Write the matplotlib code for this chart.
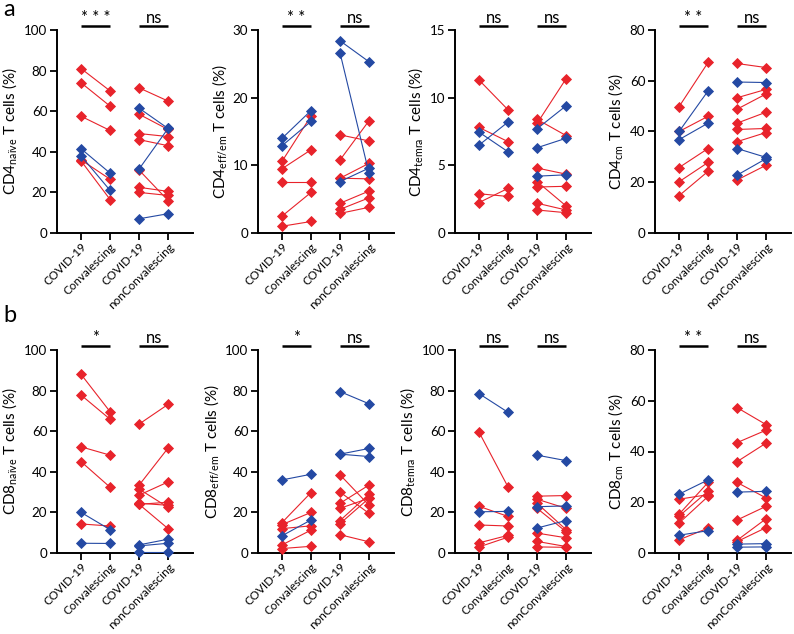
import matplotlib
matplotlib.use('Agg')
import matplotlib.pyplot as plt
import matplotlib.transforms as mtransforms

plt.rcParams['font.family'] = ['Lato', 'DejaVu Sans']
plt.rcParams['mathtext.fontset'] = 'custom'
plt.rcParams['mathtext.rm'] = 'Lato'

RED = '#e8232b'
BLUE = '#2449a3'

group_labels = ['COVID-19', 'Convalescing', 'COVID-19', 'nonConvalescing']

# (COVID-19 value, follow-up value) pairs
# --- row a: CD4 ---
cd4_naive_conv_red = [(81, 70), (74, 62.5), (57.5, 50.5), (36, 26.5), (35.5, 16.5)]
cd4_naive_conv_blue = [(41.5, 29.5), (38, 21)]
cd4_naive_non_red = [(71.5, 65), (58.5, 51), (49, 47.5), (46, 43), (31, 16), (22.5, 20.5), (20, 18.5)]
cd4_naive_non_blue = [(61.5, 51.5), (31.5, 51.5), (7, 9.5)]

cd4_effem_conv_red = [(10.6, 17.3), (9.5, 12.3), (7.6, 7.6), (2.5, 6.0), (1.0, 1.7)]
cd4_effem_conv_blue = [(14, 18.1), (12.9, 16.5)]
cd4_effem_non_red = [(14.5, 13.6), (10.8, 16.6), (8.1, 10.3), (8.1, 8.0), (4.4, 6.2), (3.5, 5.2), (2.9, 3.8)]
cd4_effem_non_blue = [(28.4, 25.3), (26.6, 8.8), (7.6, 9.6)]

cd4_temra_conv_red = [(11.3, 9.1), (7.8, 6.75), (2.9, 2.7), (2.25, 3.3)]
cd4_temra_conv_blue = [(7.45, 6.0), (6.5, 8.2)]
cd4_temra_non_red = [(8.1, 11.4), (8.4, 7.2), (4.8, 4.35), (3.8, 2.0), (3.4, 3.45), (2.2, 1.7), (1.7, 1.5)]
cd4_temra_non_blue = [(7.7, 9.4), (6.3, 7.0), (4.2, 4.3)]

cd4_cm_conv_red = [(49.8, 67.2), (40, 46), (25.8, 33.3), (20.2, 27.8), (14.7, 24.3)]
cd4_cm_conv_blue = [(40, 56), (36.8, 43.3)]
cd4_cm_non_red = [(66.8, 65.2), (53.3, 56.6), (48.8, 54.8), (43.3, 47.6), (40.8, 41.2), (36, 39.6), (20.9, 26.7)]
cd4_cm_non_blue = [(59.5, 59.3), (33.3, 29.8), (22.8, 29.3)]

# --- row b: CD8 ---
cd8_naive_conv_red = [(88, 69.6), (77.8, 65.9), (52.3, 48.2), (45, 32.4), (14.3, 13.3)]
cd8_naive_conv_blue = [(20, 11.5), (4.8, 4.7)]
cd8_naive_non_red = [(63.5, 73.2), (33.4, 51.7), (31.5, 22.5), (28.5, 35), (24.5, 23.5), (24, 12), (24, 25)]
cd8_naive_non_blue = [(4, 6.8), (3.5, 4.8), (0.5, 0.5)]

cd8_effem_conv_red = [(15, 29.8), (14, 20), (12, 13.4), (4, 11.3), (2.2, 3.3)]
cd8_effem_conv_blue = [(36, 38.8), (8.5, 16.3)]
cd8_effem_non_red = [(38.5, 23.5), (30, 19.5), (24.5, 33.5), (22, 27), (16, 29), (14.5, 27), (9, 5.5)]
cd8_effem_non_blue = [(79.5, 73.5), (48.7, 51.5), (48.7, 47.5)]

cd8_temra_conv_red = [(59.5, 32.5), (23, 18), (13.8, 13.3), (5, 8.7), (3, 7.8)]
cd8_temra_conv_blue = [(78.5, 69.3), (20.3, 20.5)]
cd8_temra_non_red = [(28, 28.3), (26.5, 22), (24.5, 11.5), (22, 10.5), (9.8, 7.5), (5.7, 3.2), (3, 2.8)]
cd8_temra_non_blue = [(48.2, 45.5), (22.8, 23.2), (12.3, 16)]

cd8_cm_conv_red = [(21.2, 23.0), (15.3, 27.8), (14.5, 24.4), (11.8, 22.3), (5.2, 9.8)]
cd8_cm_conv_blue = [(23.2, 28.8), (7, 8.8)]
cd8_cm_non_red = [(57.3, 50.6), (43.5, 48.4), (36, 43.3), (27.8, 21.7), (13, 18.4), (5, 13.5), (4.5, 10)]
cd8_cm_non_blue = [(24, 24.3), (3.5, 3.7), (2.3, 2.4)]

panels = [
    ('CD4', 'naïve', 100, 20, ('* * *', 'ns'),
     cd4_naive_conv_red, cd4_naive_conv_blue, cd4_naive_non_red, cd4_naive_non_blue),
    ('CD4', 'eff/em', 30, 10, ('* *', 'ns'),
     cd4_effem_conv_red, cd4_effem_conv_blue, cd4_effem_non_red, cd4_effem_non_blue),
    ('CD4', 'temra', 15, 5, ('ns', 'ns'),
     cd4_temra_conv_red, cd4_temra_conv_blue, cd4_temra_non_red, cd4_temra_non_blue),
    ('CD4', 'cm', 80, 20, ('* *', 'ns'),
     cd4_cm_conv_red, cd4_cm_conv_blue, cd4_cm_non_red, cd4_cm_non_blue),
    ('CD8', 'naïve', 100, 20, ('*', 'ns'),
     cd8_naive_conv_red, cd8_naive_conv_blue, cd8_naive_non_red, cd8_naive_non_blue),
    ('CD8', 'eff/em', 100, 20, ('*', 'ns'),
     cd8_effem_conv_red, cd8_effem_conv_blue, cd8_effem_non_red, cd8_effem_non_blue),
    ('CD8', 'temra', 100, 20, ('ns', 'ns'),
     cd8_temra_conv_red, cd8_temra_conv_blue, cd8_temra_non_red, cd8_temra_non_blue),
    ('CD8', 'cm', 80, 20, ('* *', 'ns'),
     cd8_cm_conv_red, cd8_cm_conv_blue, cd8_cm_non_red, cd8_cm_non_blue),
]

W, H = 794, 634
fig = plt.figure(figsize=(W / 100, H / 100), dpi=100)

lefts = [57, 258, 455, 655]
row_tops = [30, 350]
ax_w, ax_h = 136, 203


def draw_pairs(ax, pairs, x0, color):
    for before, after in pairs:
        ax.plot([x0, x0 + 1], [before, after], color=color, lw=0.8,
                marker='D', ms=4.6, mec=color, mfc=color, mew=0.6, zorder=3, clip_on=False)


for i, (cell, sub, ymax, step, stars, c_red, c_blue, n_red, n_blue) in enumerate(panels):
    row, col = divmod(i, 4)
    ax = fig.add_axes([lefts[col] / W, 1 - (row_tops[row] + ax_h) / H, ax_w / W, ax_h / H])

    draw_pairs(ax, c_red, 0, RED)
    draw_pairs(ax, c_blue, 0, BLUE)
    draw_pairs(ax, n_red, 2, RED)
    draw_pairs(ax, n_blue, 2, BLUE)

    ax.set_xlim(-0.83, 3.86)
    ax.set_ylim(0, ymax)
    ax.set_yticks(range(0, ymax + 1, step))
    ax.set_xticks(range(4))
    ax.set_xticklabels(group_labels, rotation=45, ha='right', rotation_mode='anchor', fontsize=8.4)
    ax.tick_params(axis='y', labelsize=9.6, length=5, width=1.3, direction='out', pad=2)
    ax.tick_params(axis='x', length=5, width=1.3, direction='out', pad=1)
    for s in ['top', 'right']:
        ax.spines[s].set_visible(False)
    for s in ['left', 'bottom']:
        ax.spines[s].set_linewidth(1.4)

    ax.set_ylabel(cell + '$_{\\mathregular{' + sub + '}}$ T cells (%)', fontsize=11, labelpad=3)

    trans = mtransforms.blended_transform_factory(ax.transData, ax.transAxes)
    for k, label in enumerate(stars):
        x0 = 2 * k
        ax.plot([x0, x0 + 1], [1.02, 1.02], color='black', lw=1.8, transform=trans,
                clip_on=False, solid_capstyle='butt')
        ax.text(x0 + 0.5, 1.035, label, transform=trans, ha='center', va='baseline', fontsize=12)

fig.text(3 / W, 1 - 10 / H, 'a', fontsize=17, ha='left', va='center')
fig.text(3 / W, 1 - 315 / H, 'b', fontsize=17, ha='left', va='center')

fig.savefig('out.png', dpi=100)
